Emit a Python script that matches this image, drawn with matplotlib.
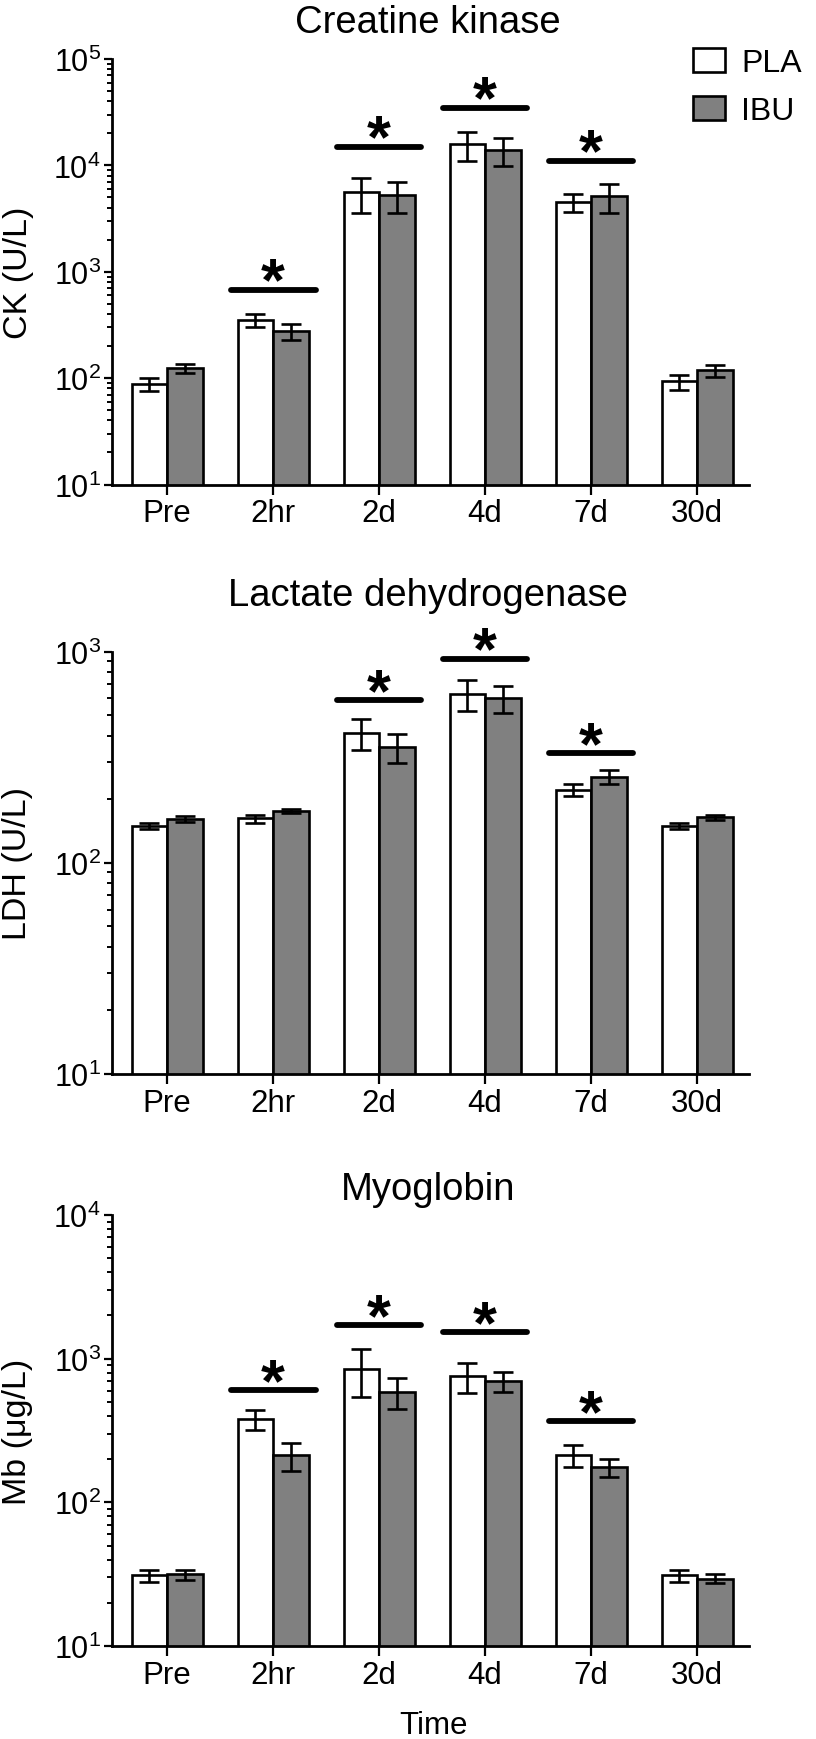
import matplotlib
matplotlib.use('Agg')
import matplotlib.pyplot as plt
import numpy as np
from matplotlib.patches import Patch
from matplotlib.ticker import LogLocator, NullFormatter

plt.rcParams['font.family'] = ['Liberation Sans', 'DejaVu Sans']
plt.rcParams['mathtext.fontset'] = 'custom'
plt.rcParams['mathtext.rm'] = 'Liberation Sans'
plt.rcParams['mathtext.it'] = 'Liberation Sans:italic'
plt.rcParams['mathtext.bf'] = 'Liberation Sans:bold'

# ---------------- data ----------------
categories = ['Pre', '2hr', '2d', '4d', '7d', '30d']
groups = ['PLA', 'IBU']

ck_pla = [88, 352, 5600, 15800, 4500, 93]
ck_pla_err = [13, 52, 2000, 4800, 830, 15]
ck_ibu = [124, 275, 5300, 13900, 5100, 118]
ck_ibu_err = [12, 46, 1700, 4100, 1550, 15]
ck_sig_idx = [1, 2, 3, 4]
ck_sig_y = [676, 14900, 34700, 11100]

ldh_pla = [150, 162, 410, 630, 222, 150]
ldh_pla_err = [5, 7, 70, 105, 15, 5]
ldh_ibu = [161, 176, 352, 600, 255, 164]
ldh_ibu_err = [5, 4, 55, 88, 20, 5]
ldh_sig_idx = [2, 3, 4]
ldh_sig_y = [589, 925, 330]

mb_pla = [31, 378, 850, 755, 212, 31]
mb_pla_err = [3, 60, 310, 180, 37, 3]
mb_ibu = [31.5, 212, 590, 700, 176, 29.5]
mb_ibu_err = [2.5, 46, 146, 111, 25, 2]
mb_sig_idx = [1, 2, 3, 4]
mb_sig_y = [603, 1708, 1528, 366]

titles = ['Creatine kinase', 'Lactate dehydrogenase', 'Myoglobin']
ylabels = ['CK (U/L)', 'LDH (U/L)', 'Mb (\u03bcg/L)']
ylims = [(10, 1e5), (10, 1e3), (10, 1e4)]
xlabel = 'Time'

# ---------------- layout (pixels) ----------------
W, H = 816, 1740
fig = plt.figure(figsize=(W / 100, H / 100), dpi=100)
left_px, right_px = 112, 749
rows_px = [(60, 485.5), (652.5, 1075), (1216, 1647)]
title_base_px = [33, 606, 1200]

series = [
    (ck_pla, ck_pla_err, ck_ibu, ck_ibu_err, ck_sig_idx, ck_sig_y),
    (ldh_pla, ldh_pla_err, ldh_ibu, ldh_ibu_err, ldh_sig_idx, ldh_sig_y),
    (mb_pla, mb_pla_err, mb_ibu, mb_ibu_err, mb_sig_idx, mb_sig_y),
]

gray = '#808080'
bw = 0.335
lw = 1.9
x = np.arange(len(categories))
axes = []
for i, (top, bot) in enumerate(rows_px):
    ax = fig.add_axes([left_px / W, 1 - bot / H, (right_px - left_px) / W, (bot - top) / H])
    axes.append(ax)
    pla, pla_e, ibu, ibu_e, sidx, sy = series[i]
    ax.set_yscale('log')
    ax.bar(x - bw / 2, pla, bw, color='white', edgecolor='black', linewidth=lw, zorder=2)
    ax.bar(x + bw / 2, ibu, bw, color=gray, edgecolor='black', linewidth=lw, zorder=2)
    ax.errorbar(x - bw / 2, pla, yerr=pla_e, fmt='none', ecolor='black', elinewidth=lw,
                capsize=7.5, capthick=lw, zorder=3)
    ax.errorbar(x + bw / 2, ibu, yerr=ibu_e, fmt='none', ecolor='black', elinewidth=lw,
                capsize=7.5, capthick=lw, zorder=3)
    for j, yv in zip(sidx, sy):
        ax.plot([j - 0.40, j + 0.40], [yv, yv], color='black', lw=4.2,
                solid_capstyle='round', zorder=3, clip_on=False)
        ax.annotate('*', xy=(j, yv), xytext=(0, -7), textcoords='offset points',
                    ha='center', va='baseline', fontsize=44, fontweight='bold',
                    annotation_clip=False)
    ax.set_ylim(*ylims[i])
    ax.set_xlim(-0.52, 5.49)
    ax.set_xticks(x)
    ax.set_xticklabels(categories, fontsize=22.5)
    ax.yaxis.set_major_locator(LogLocator(base=10, numticks=10))
    ax.yaxis.set_minor_locator(LogLocator(base=10, subs=np.arange(2, 10), numticks=20))
    ax.yaxis.set_minor_formatter(NullFormatter())
    for s in ['top', 'right']:
        ax.spines[s].set_visible(False)
    for s in ['left', 'bottom']:
        ax.spines[s].set_linewidth(2.0)
    ax.tick_params(axis='y', which='major', length=6, width=1.6, labelsize=22, pad=2)
    ax.tick_params(axis='y', which='minor', length=3.5, width=1.4)
    ax.tick_params(axis='x', which='major', length=7, width=1.6, pad=3)
    ax.tick_params(axis='x', which='minor', length=0)
    cx = 428 / W
    fig.text(cx, 1 - title_base_px[i] / H, titles[i], ha='center', va='baseline', fontsize=27.5)
    fig.text(18 / W, 1 - (top + bot) / 2 / H, ylabels[i], rotation=90, ha='center',
             va='center', fontsize=24.5)

fig.text(433 / W, 1 - 1734 / H, xlabel, ha='center', va='baseline', fontsize=22.5)

handles = [Patch(facecolor='white', edgecolor='black', linewidth=lw, label=groups[0]),
           Patch(facecolor=gray, edgecolor='black', linewidth=lw, label=groups[1])]
fig.legend(handles=handles, loc='upper left', bbox_to_anchor=(693 / W, 1 - 49 / H),
           bbox_transform=fig.transFigure, frameon=False, fontsize=23, handlelength=1.0,
           handleheight=0.8, handletextpad=0.5, labelspacing=0.55, borderpad=0,
           borderaxespad=0)

fig.savefig('out.png', dpi=100)
